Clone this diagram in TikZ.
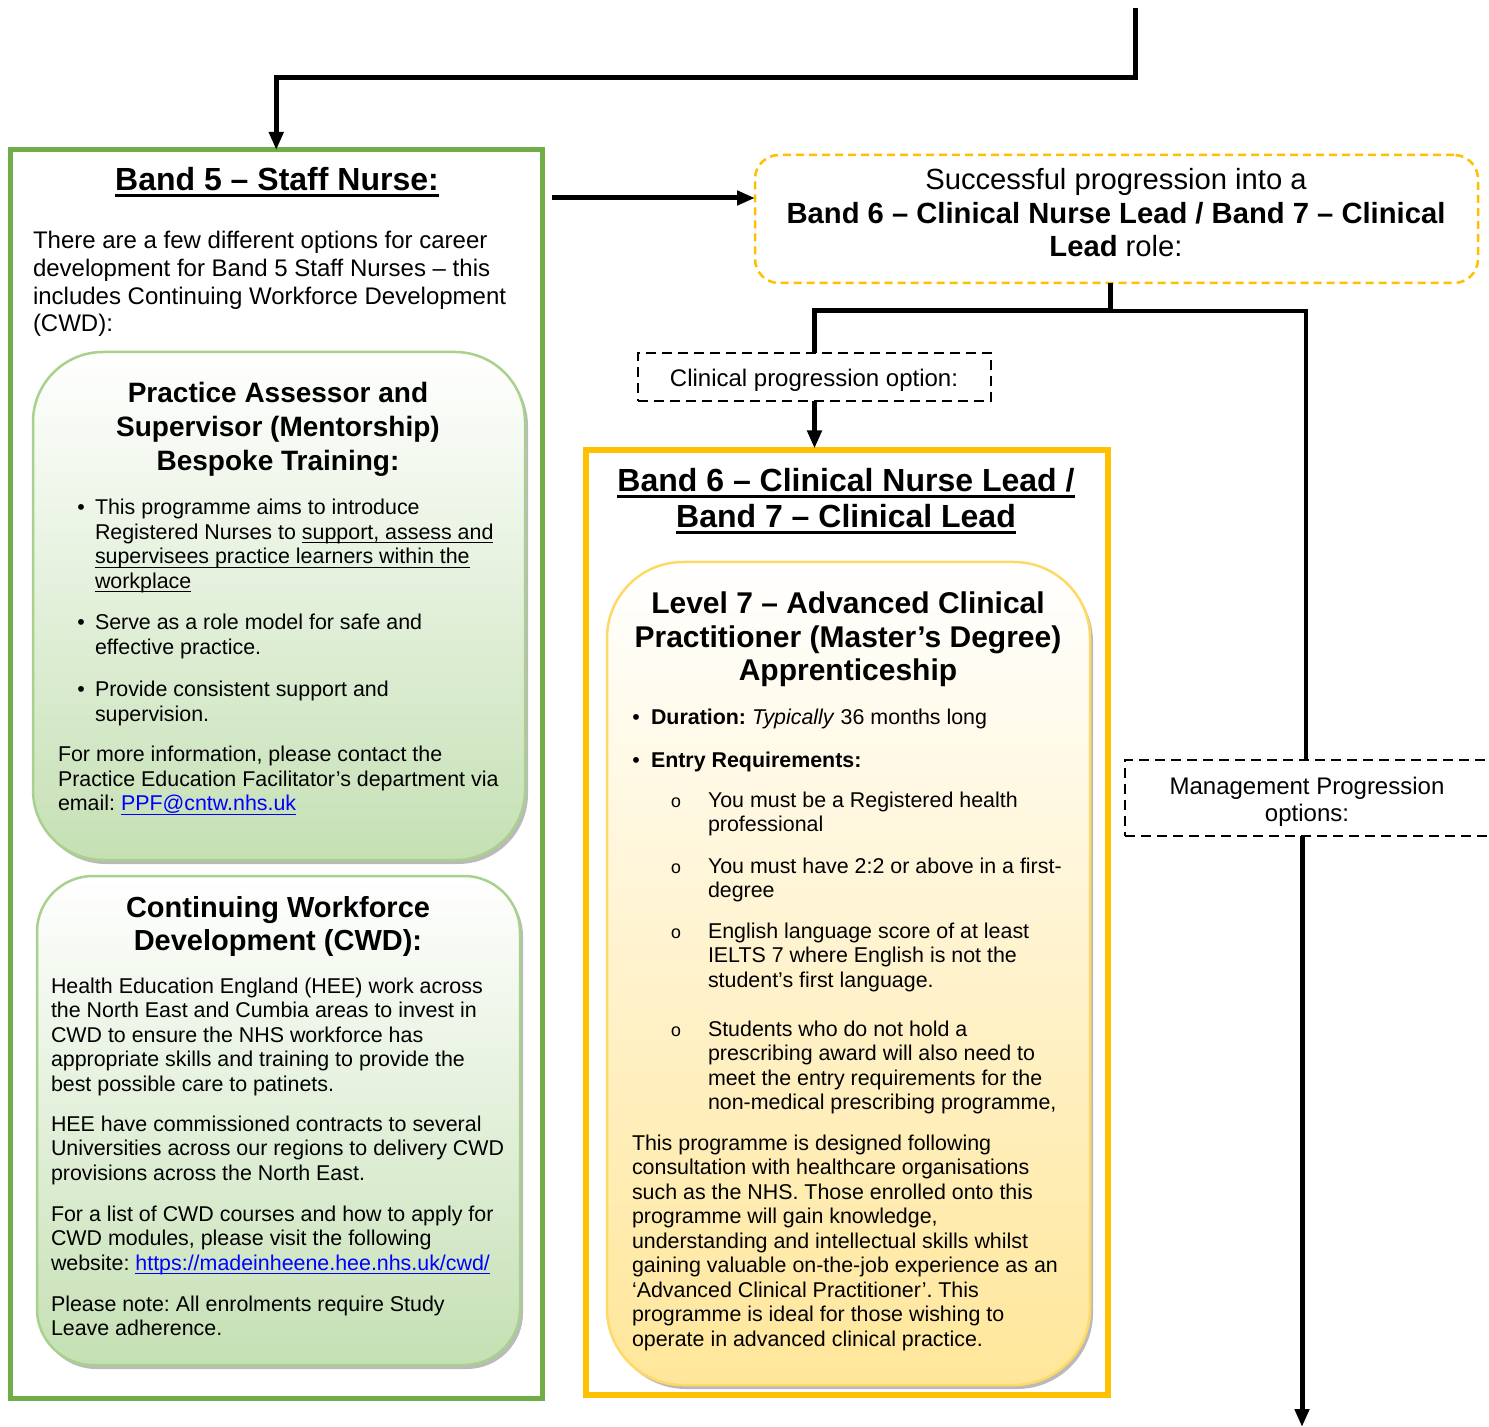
\documentclass[tikz,border=0pt]{standalone}
\usepackage{fontspec}
\setmainfont{Liberation Sans}
\newfontfamily\monof{Liberation Mono}
\usetikzlibrary{arrows.meta,shadows}
\definecolor{gframe}{HTML}{70AD47}
\definecolor{yframe}{HTML}{FFC000}
\definecolor{gborder}{HTML}{A9D18E}
\definecolor{gfill}{HTML}{C5E0B4}
\definecolor{yborder}{HTML}{FFD966}
\definecolor{yfill}{HTML}{FFE699}
\definecolor{linkblue}{HTML}{0000FF}
\frenchspacing
\newcommand\ulx[3]{\leavevmode\setbox0=\hbox{#3}\rlap{\vrule height -#1 depth #2 width \wd0}\box0}
\newcommand\bul[1]{\ulx{1.3pt}{1.9pt}{#1}}
\newcommand\tul[1]{\ulx{1.7pt}{3.2pt}{#1}}
\newcommand\lnk[1]{\textcolor{linkblue}{\bul{#1}}}
\newcommand\bodyf{\fontsize{10.7pt}{12.25pt}\selectfont}
\newcommand\subo{\fontsize{9pt}{10pt}\selectfont\monof o}
\newcommand\blk[2]{\parbox[t]{320pt}{#1\raggedright #2}}
\newcommand\cblk[2]{\parbox[t]{360pt}{#1\centering #2}}
\begin{document}
\begin{tikzpicture}[x=0.5pt,y=-0.5pt,
  conn/.style={line width=2.5pt,-{Triangle[length=9pt,width=7pt]}},
  wire/.style={line width=2.5pt},
  txt/.style={anchor=base west,inner sep=0pt,outer sep=0pt},
  ctxt/.style={anchor=base,inner sep=0pt,outer sep=0pt},
  bx/.style={inner sep=0pt,outer sep=0pt},
  softbox/.style={bx,line width=1.25pt,drop shadow={shadow xshift=1.5pt,shadow yshift=-2pt,fill=black!45,opacity=0.6}},
  gbox/.style={softbox,draw=gborder,top color=white,bottom color=gfill},
  ybox/.style={softbox,draw=yborder,top color=white,bottom color=yfill},
  dbox/.style={bx,draw,line width=1.25pt,dash pattern=on 5pt off 3pt,align=center,font=\fontsize{12pt}{13.5pt}\selectfont},
]
\useasboundingbox (0,0) rectangle (1489,1427);
\fill[white] (0,0) rectangle (1489,1427);
\clip (0,0) rectangle (1489,1427);

% ---------- boxes ----------
\node[bx,draw=gframe,line width=2.5pt,minimum width=265.75pt,minimum height=624pt] (b5) at (276.25,774) {};
\node[bx,draw=yframe,line width=3pt,minimum width=261pt,minimum height=472.5pt] (b6) at (847,922.5) {};
\node[gbox,rounded corners=35pt,minimum width=246pt,minimum height=254pt] (pa) at (279,606) {};
\node[gbox,rounded corners=28pt,minimum width=241.5pt,minimum height=244.5pt] (cwd) at (278.5,1120.5) {};
\node[ybox,rounded corners=38pt,minimum width=241.5pt,minimum height=411.5pt] (acp) at (848.5,973.5) {};
\node[bx,draw=yframe,line width=1.25pt,dash pattern=on 4pt off 2.5pt,rounded corners=12pt,minimum width=361.5pt,minimum height=64pt] (succ) at (1116.5,219) {};
\node[dbox,minimum width=176.5pt,minimum height=24pt] (clin) at (814.5,377) {};
\node[dbox,minimum width=183pt,minimum height=38pt] (mgmt) at (1308,798) {};
\node[ctxt] (clint) at (814,387) {\fontsize{12pt}{13.5pt}\selectfont Clinical progression option:};
\node[ctxt] (mgmtt) at (1307,794) {\cblk{\fontsize{12pt}{13.5pt}\selectfont}{Management Progression\\options:}};

% ---------- Band 5 ----------
\node[ctxt] (t5) at (277,191) {\fontsize{16pt}{18pt}\selectfont\bfseries\tul{Band 5 – Staff Nurse:}};
\node[txt] (t5i) at (33,249) {\blk{\fontsize{12pt}{13.8pt}\selectfont}{There are a few different options for career\\development for Band 5 Staff Nurses – this\\includes Continuing Workforce Development\\(CWD):}};

\node[ctxt] (pat) at (278,403) {\cblk{\fontsize{14pt}{17pt}\selectfont\bfseries}{Practice Assessor and\\Supervisor (Mentorship)\\Bespoke Training:}};
\node[ctxt] (pab1) at (81,515) {\bodyf •};
\node[txt] (pa1) at (95,515) {\blk{\bodyf}{This programme aims to introduce\\Registered Nurses to \bul{support, assess and}\\\bul{supervisees practice learners within the}\\\bul{workplace}}};
\node[ctxt] (pab2) at (81,630) {\bodyf •};
\node[txt] (pa2) at (95,630) {\blk{\bodyf}{Serve as a role model for safe and\\effective practice.}};
\node[ctxt] (pab3) at (81,697) {\bodyf •};
\node[txt] (pa3) at (95,697) {\blk{\bodyf}{Provide consistent support and\\supervision.}};
\node[txt] (pa4) at (58,762) {\blk{\bodyf}{For more information, please contact the\\Practice Education Facilitator’s department via\\email: \lnk{PPF@cntw.nhs.uk}}};

\node[ctxt] (cwt) at (278,917) {\cblk{\fontsize{14.5pt}{16.5pt}\selectfont\bfseries}{Continuing Workforce\\Development (CWD):}};
\node[txt] (cw1) at (51,993) {\blk{\bodyf}{Health Education England (HEE) work across\\the North East and Cumbia areas to invest in\\CWD to ensure the NHS workforce has\\appropriate skills and training to provide the\\best possible care to patinets.}};
\node[txt] (cw2) at (51,1131) {\blk{\bodyf}{HEE have commissioned contracts to several\\Universities across our regions to delivery CWD\\provisions across the North East.}};
\node[txt] (cw3) at (51,1221) {\blk{\bodyf}{For a list of CWD courses and how to apply for\\CWD modules, please visit the following\\website: \lnk{https://madeinheene.hee.nhs.uk/cwd/}}};
\node[txt] (cw4) at (51,1311) {\blk{\bodyf}{Please note: All enrolments require Study\\Leave adherence.}};

% ---------- progression box ----------
\node[ctxt] (st) at (1116,190) {\cblk{\fontsize{14.6pt}{16.75pt}\selectfont}{Successful progression into a\\\textbf{Band 6 – Clinical Nurse Lead / Band 7 – Clinical}\\\textbf{Lead} role:}};

% ---------- Band 6 ----------
\node[ctxt] (t6) at (846,492) {\cblk{\fontsize{16pt}{18pt}\selectfont\bfseries}{\tul{Band 6 – Clinical Nurse Lead /}\\\tul{Band 7 – Clinical Lead}}};
\node[ctxt] (act) at (848,614) {\cblk{\fontsize{15pt}{16.75pt}\selectfont\bfseries}{Level 7 – Advanced Clinical\\Practitioner (Master’s Degree)\\Apprenticeship}};
\node[ctxt] (acb1) at (636,725) {\bodyf •};
\node[txt] (ac1) at (651,725) {\bodyf\textbf{Duration:} \textit{Typically} 36 months long};
\node[ctxt] (acb2) at (636,767) {\bodyf •};
\node[txt] (ac2) at (651,767) {\bodyf\textbf{Entry Requirements:}};
\node[ctxt] (so1) at (676,807) {\subo};
\node[txt] (s1) at (708,807) {\blk{\bodyf}{You must be a Registered health\\professional}};
\node[ctxt] (so2) at (676,873) {\subo};
\node[txt] (s2) at (708,873) {\blk{\bodyf}{You must have 2:2 or above in a first-\\degree}};
\node[ctxt] (so3) at (676,938) {\subo};
\node[txt] (s3) at (708,938) {\blk{\bodyf}{English language score of at least\\IELTS 7 where English is not the\\student’s first language.}};
\node[ctxt] (so4) at (676,1036) {\subo};
\node[txt] (s4) at (708,1036) {\blk{\bodyf}{Students who do not hold a\\prescribing award will also need to\\meet the entry requirements for the\\non-medical prescribing programme,}};
\node[txt] (acp1) at (632,1150) {\blk{\bodyf}{This programme is designed following\\consultation with healthcare organisations\\such as the NHS. Those enrolled onto this\\programme will gain knowledge,\\understanding and intellectual skills whilst\\gaining valuable on-the-job experience as an\\‘Advanced Clinical Practitioner’. This\\programme is ideal for those wishing to\\operate in advanced clinical practice.}};

% ---------- connectors ----------
\coordinate (src) at (1135,8);
\draw[conn] (src) -- ++(0,70) -| (b5.north);
\coordinate (a5) at ([xshift=5pt]b5.east);
\coordinate (sw) at ([yshift=10.5pt]succ.west);
\draw[conn] (a5 |- sw) -- (sw);
\coordinate (sj) at ([xshift=-3.25pt]succ.south);
\coordinate (j) at ([yshift=-14pt]sj);
\draw[wire] (sj) -- (j);
\draw[wire] (clin.north) |- (j);
\draw[line width=2pt] (j) -| ([xshift=-1pt]mgmt.north);
\draw[conn,shorten >=0.75pt] (clin.south) -- (clin.south |- b6.north);
\coordinate (sink) at (1300,1427);
\draw[conn] ([xshift=-3pt]mgmt.south) -- ([xshift=-3pt]mgmt.south |- sink);
\end{tikzpicture}
\end{document}
